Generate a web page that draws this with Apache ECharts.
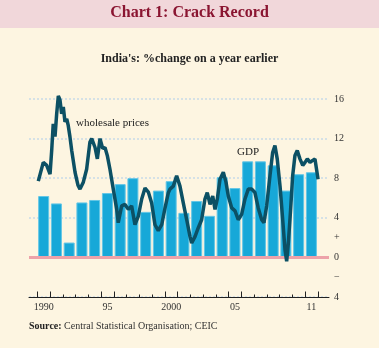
<!DOCTYPE html>
<html><head><meta charset="utf-8">
<script src="https://cdn.jsdelivr.net/npm/echarts@6/dist/echarts.min.js"></script>
<style>html,body{margin:0;padding:0;background:#fdf5e1;}#c{width:379px;height:348px;}</style>
</head><body><div id="c"></div>
<script>
// GDP growth, annual bars
const gdpYears = [1990,1991,1992,1993,1994,1995,1996,1997,1998,1999,2000,2001,2002,2003,2004,2005,2006,2007,2008,2009,2010,2011];
const gdpValues = [6.2,5.45,1.5,5.55,5.8,6.5,7.4,8.0,4.6,6.75,7.7,4.5,5.7,4.2,8.1,7.0,9.7,9.7,9.3,6.75,8.4,8.6];
// Wholesale prices, % change on a year earlier (time in decimal years)
const wpiDates = [1990.08,1990.47,1990.74,1991.00,1991.13,1991.25,1991.39,1991.52,1991.65,1991.78,1991.91,1992.04,1992.17,1992.31,1992.43,1992.56,1992.70,1992.96,1993.19,1993.35,1993.61,1993.87,1994.13,1994.27,1994.53,1994.71,1994.92,1995.13,1995.31,1995.49,1995.70,1995.96,1996.23,1996.35,1996.62,1996.88,1997.14,1997.40,1997.66,1997.92,1998.19,1998.45,1998.71,1998.97,1999.23,1999.49,1999.76,2000.02,2000.27,2000.41,2000.67,2000.93,2001.06,2001.19,2001.45,2001.72,2001.98,2002.11,2002.37,2002.63,2002.89,2003.15,2003.33,2003.55,2003.76,2003.94,2004.12,2004.33,2004.59,2004.80,2004.98,2005.25,2005.51,2005.76,2006.03,2006.29,2006.55,2006.82,2007.07,2007.33,2007.60,2007.78,2007.99,2008.25,2008.46,2008.64,2008.82,2009.04,2009.25,2009.43,2009.56,2009.69,2009.87,2010.03,2010.21,2010.39,2010.60,2010.82,2011.00,2011.18,2011.39,2011.60,2011.78,2012.02];
const wpiValues = [7.7,9.6,9.3,8.4,10.8,13.5,12.2,14.5,16.3,15.9,14.5,15.2,13.7,14.0,13.3,12.2,10.8,8.6,7.3,6.9,7.6,8.9,11.65,12.0,11.1,9.95,12.0,11.0,11.1,10.3,8.9,6.9,4.85,3.5,5.2,5.35,4.85,5.2,3.3,4.15,5.9,7.0,6.6,5.5,3.3,2.7,3.3,5.0,6.5,6.9,7.2,8.25,8.4,7.2,5.5,3.8,2.1,1.45,2.1,3.0,3.8,5.9,6.55,5.35,6.2,4.85,5.9,7.9,8.6,7.6,6.2,5.0,4.7,3.8,4.35,5.9,6.9,6.9,6.55,5.0,3.8,3.5,5.2,8.25,10.6,11.3,9.95,7.2,3.8,0.75,-0.4,1.45,4.85,8.25,10.3,10.8,9.95,9.3,9.6,9.95,9.6,9.8,9.95,7.9];
// Axis ticks and labels
const yLabelValues = [-4,-2,0,2,4,8,12,16];
const yLabelTexts = ['4','\u2212','0','+','4','8','12','16'];
const xLabelYears = [1990,1995,2000,2005,2011];
const xLabelTexts = ['1990','95','2000','05','11'];
const minorTickYears = [1990,1991,1992,1993,1994,1995,1996,1997,1998,1999,2000,2001,2002,2003,2004,2005,2006,2007,2008,2009,2010,2011,2012];
const majorTickYears = [1990,1991,1995,1996,2000,2001,2005,2006,2011,2012];

const FONT = '"Liberation Serif","DejaVu Serif",serif';
const chart = echarts.init(document.getElementById('c'), null, {renderer:'canvas'});
const xMin = 1989.35, xMax = 2012.88;
const option = {
  backgroundColor: '#fdf5e1',
  animation: false,
  graphic: [
    {type:'rect', shape:{x:0,y:0,width:379,height:28}, style:{fill:'#f1d7da'}, z:-1},
    {type:'text', left:'center', top:5, style:{text:'Chart 1: Crack Record', font:'bold 16px '+FONT, fill:'#8a1531'}},
    {type:'text', left:'center', top:53, style:{text:"India's: %change on a year earlier", font:'bold 12px '+FONT, fill:'#222'}},
    {type:'text', left:76, top:118, z:10, style:{text:'wholesale prices', font:'11px '+FONT, fill:'#222'}},
    {type:'text', left:237, top:147, z:10, style:{text:'GDP', font:'11px '+FONT, fill:'#222'}},
    {type:'text', left:29, top:321, style:{text:'{b|Source:}{r| Central Statistical Organisation; CEIC}', fill:'#222',
      rich:{b:{fontFamily:FONT, fontSize:10, fontWeight:'bold', fill:'#222'}, r:{fontFamily:FONT, fontSize:10, fill:'#333'}}}}
  ],
  grid: {left:29, right:50, top:99, bottom:51},
  xAxis: [
    {type:'value', min:xMin, max:xMax, position:'bottom',
     axisLine:{show:true, onZero:false, lineStyle:{color:'#222', width:1}},
     axisTick:{show:true, customValues:minorTickYears, inside:true, length:2.5, lineStyle:{color:'#222'}},
     axisLabel:{customValues:xLabelYears.map(y=>y+0.5), formatter:v=>{const i=xLabelYears.findIndex(y=>Math.abs(y+0.5-v)<1e-6); return i>=0?xLabelTexts[i]:'';}, fontFamily:FONT, fontSize:10, color:'#333', margin:5},
     splitLine:{show:false}},
    {type:'value', min:xMin, max:xMax, position:'bottom',
     axisLine:{show:false, onZero:false},
     axisTick:{show:true, customValues:majorTickYears, inside:true, length:5.5, lineStyle:{color:'#222'}},
     axisLabel:{show:false}, splitLine:{show:false}}
  ],
  yAxis: [
    {type:'value', min:-4, max:16, interval:4, position:'right',
     axisLine:{show:false}, axisTick:{show:false}, axisLabel:{show:false},
     splitLine:{show:true, lineStyle:{color:'#d5e1e6', width:2, type:'dotted'}}},
    {type:'value', min:-4, max:16, position:'right',
     axisLine:{show:false}, axisTick:{show:false}, splitLine:{show:false},
     axisLabel:{customValues:yLabelValues, formatter:v=>{const i=yLabelValues.indexOf(v); return i>=0?yLabelTexts[i]:'';}, fontFamily:FONT, fontSize:10, color:'#333', margin:5}}
  ],
  series: [
    {type:'bar', xAxisIndex:0, yAxisIndex:0, barWidth:11,
     data: gdpYears.map((y,i)=>[y+0.5, gdpValues[i]]),
     itemStyle:{color:'#17a8d8', borderColor:'#63c6e6', borderWidth:1},
     markLine:{silent:true, symbol:'none', label:{show:false}, lineStyle:{color:'#eda2a9', width:3, type:'solid'}, data:[{yAxis:0}]}},
    {type:'line', xAxisIndex:0, yAxisIndex:0, clip:false, showSymbol:false, symbol:'none',
     data: wpiDates.map((d,i)=>[d, wpiValues[i]]),
     lineStyle:{color:'#0c5064', width:3.5}, z:5}
  ]
};
chart.setOption(option);
</script></body></html>
